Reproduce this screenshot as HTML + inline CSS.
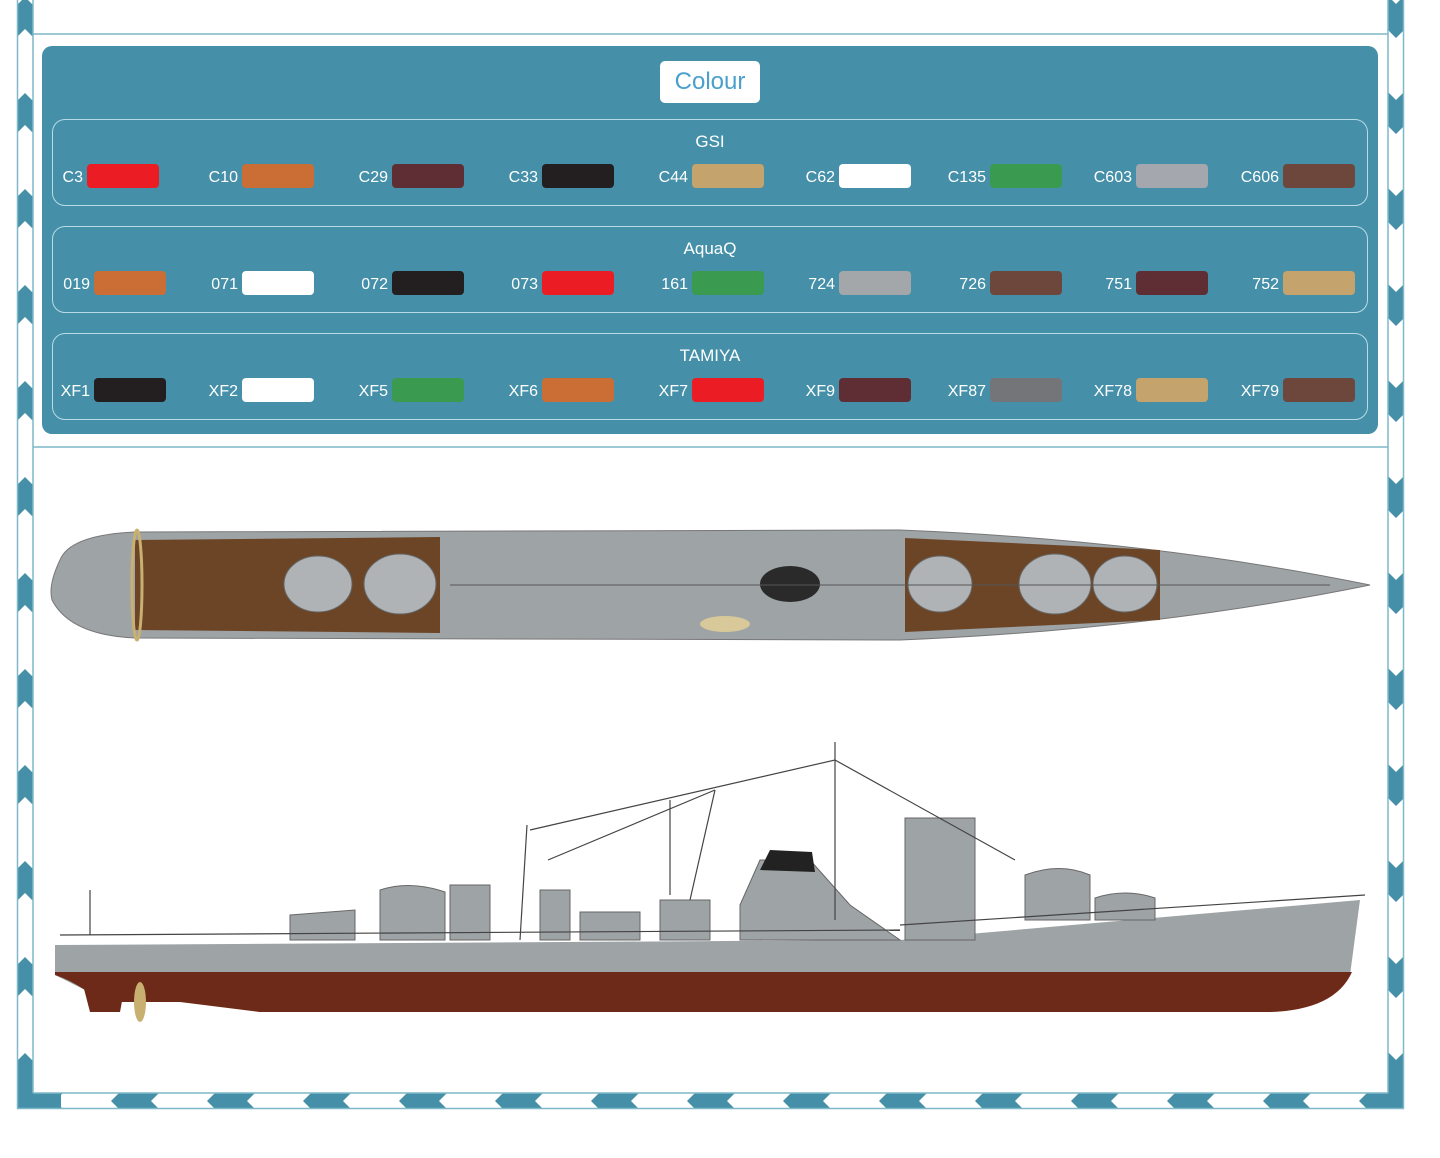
<!DOCTYPE html>
<html><head><meta charset="utf-8"><style>
body{margin:0;width:1440px;height:1158px;background:#fff;font-family:"Liberation Sans",sans-serif;position:relative;overflow:hidden}
.panel{position:absolute;left:42px;top:46px;width:1336px;height:388px;background:#4590a8;border-radius:10px}
.title{position:absolute;left:618px;top:15px;width:100px;height:42px;background:#fff;border-radius:5px;color:#4aa0cc;font-size:24px;text-align:center;line-height:42px}
.grp{position:absolute;left:10px;width:1316px;height:87px;border:1.5px solid #b8dbe6;border-radius:13px;box-sizing:border-box}
.gt{position:absolute;left:0;right:0;top:12px;text-align:center;color:#fff;font-size:17px}
.sw{position:absolute;top:44px;width:72px;height:24px;border-radius:4px}
.lb{position:absolute;top:49px;color:#fff;font-size:16px;text-align:right;width:60px}
</style></head><body>
<svg width="1440" height="1158" style="position:absolute;left:0;top:0">
<defs>
<pattern id="pl" x="17" y="0" width="16" height="96" patternUnits="userSpaceOnUse">
<polygon points="0,5 8,-3 16,5 16,37 8,29 0,37" fill="#4590a8"/><polygon points="0,101 8,93 16,101 16,133 8,125 0,133" fill="#4590a8"/></pattern>
<pattern id="pr" x="1388" y="0" width="16" height="96" patternUnits="userSpaceOnUse">
<polygon points="0,-4 8,4 16,-4 16,30 8,38 0,30" fill="#4590a8"/><polygon points="0,92 8,100 16,92 16,126 8,134 0,126" fill="#4590a8"/></pattern>
<pattern id="pb" x="0" y="1093" width="96" height="16" patternUnits="userSpaceOnUse">
<polygon points="23,0 63,0 55,8 63,16 23,16 15,8" fill="#4590a8"/></pattern>
</defs>
<rect x="17" y="0" width="16" height="1109" fill="url(#pl)"/>
<rect x="1388" y="0" width="16" height="1109" fill="url(#pr)"/>
<rect x="17" y="1093" width="1387" height="16" fill="url(#pb)"/>
<rect x="17" y="1070" width="16" height="39" fill="#4590a8"/>
<rect x="17" y="1093" width="44" height="16" fill="#4590a8"/>
<rect x="1388" y="1060" width="16" height="49" fill="#4590a8"/>
<g fill="none" stroke="#7fb8c9" stroke-width="1.5">
<line x1="17.5" y1="0" x2="17.5" y2="1109"/><line x1="33" y1="0" x2="33" y2="1093"/>
<line x1="1388" y1="0" x2="1388" y2="1093"/><line x1="1403.5" y1="0" x2="1403.5" y2="1109"/>
<line x1="17" y1="1108.5" x2="1404" y2="1108.5"/><line x1="33" y1="1093" x2="1388" y2="1093"/>
<line x1="33" y1="34" x2="1388" y2="34"/><line x1="33" y1="447" x2="1388" y2="447"/>
</g>
<!-- top view ship -->
<path d="M60,560 Q70,535 135,532 L900,530 Q1150,540 1370,585 Q1150,630 900,640 L135,638 Q70,635 52,600 Q48,585 60,560Z" fill="#9ea3a6" stroke="#777" stroke-width="1"/>
<path d="M135,540 L440,537 L440,633 L135,630Z" fill="#6b4526"/>
<path d="M905,538 L1160,550 L1160,620 L905,632Z" fill="#6b4526"/>
<ellipse cx="318" cy="584" rx="34" ry="28" fill="#b0b3b5" stroke="#666"/>
<ellipse cx="400" cy="584" rx="36" ry="30" fill="#b0b3b5" stroke="#666"/>
<ellipse cx="1055" cy="584" rx="36" ry="30" fill="#b0b3b5" stroke="#666"/>
<ellipse cx="1125" cy="584" rx="32" ry="28" fill="#b0b3b5" stroke="#666"/>
<ellipse cx="940" cy="584" rx="32" ry="28" fill="#b0b3b5" stroke="#666"/>
<ellipse cx="790" cy="584" rx="30" ry="18" fill="#2a2a2a"/>
<ellipse cx="725" cy="624" rx="25" ry="8" fill="#d8c89a"/>
<line x1="450" y1="585" x2="1330" y2="585" stroke="#555" stroke-width="1"/>
<ellipse cx="137" cy="585" rx="5" ry="55" fill="none" stroke="#c8b070" stroke-width="3"/>
<!-- side view ship -->
<path d="M55,945 L900,940 L1360,900 L1350,975 Q1330,1010 1270,1012 L260,1012 L180,1000 L100,1000 L85,990 L55,975Z" fill="#9ea3a6"/>
<path d="M55,972 L1352,972 Q1335,1010 1270,1012 L260,1012 L180,1002 L100,1002 L85,990 Q70,980 55,975Z" fill="#6e2a18"/>
<path d="M83,985 L125,985 L120,1012 L90,1012Z" fill="#6e2a18"/>
<ellipse cx="140" cy="1002" rx="6" ry="20" fill="#c8b070"/>
<g fill="#9ea3a6" stroke="#666" stroke-width="1">
<path d="M290,915 L355,910 L355,940 L290,940Z"/>
<path d="M380,890 Q410,880 445,892 L445,940 L380,940Z"/>
<rect x="450" y="885" width="40" height="55"/>
<rect x="540" y="890" width="30" height="50"/>
<rect x="580" y="912" width="60" height="28"/>
<rect x="660" y="900" width="50" height="40"/>
<path d="M740,905 L760,860 L810,860 L850,905 L900,940 L740,940Z"/>
<rect x="905" y="818" width="70" height="122"/>
<path d="M1025,875 Q1060,862 1090,875 L1090,920 L1025,920Z"/>
<path d="M1095,898 Q1125,888 1155,898 L1155,920 L1095,920Z"/>
</g>
<path d="M760,870 L770,850 L812,852 L815,872Z" fill="#222"/>
<g stroke="#444" stroke-width="1.2" fill="none">
<path d="M530,830 L835,760 L1015,860"/><path d="M548,860 L715,790"/><line x1="835" y1="742" x2="835" y2="920"/>
<line x1="527" y1="825" x2="520" y2="940"/><line x1="90" y1="890" x2="90" y2="935"/>
<line x1="670" y1="800" x2="670" y2="895"/><line x1="715" y1="790" x2="690" y2="900"/>
<line x1="60" y1="935" x2="900" y2="930"/><line x1="900" y1="925" x2="1365" y2="895"/>
</g>
</svg>
<div class="panel">
<div class="title">Colour</div>
<div class="grp" style="top:73px"><div class="gt">GSI</div>
<span class="lb" style="left:-30px">C3</span><div class="sw" style="left:34px;background:#ec1c24"></div>
<span class="lb" style="left:125px">C10</span><div class="sw" style="left:189px;background:#cb6e36"></div>
<span class="lb" style="left:275px">C29</span><div class="sw" style="left:339px;background:#5e2e34"></div>
<span class="lb" style="left:425px">C33</span><div class="sw" style="left:489px;background:#231f20"></div>
<span class="lb" style="left:575px">C44</span><div class="sw" style="left:639px;background:#c5a36c"></div>
<span class="lb" style="left:722px">C62</span><div class="sw" style="left:786px;background:#fff"></div>
<span class="lb" style="left:873px">C135</span><div class="sw" style="left:937px;background:#3a9a50"></div>
<span class="lb" style="left:1019px">C603</span><div class="sw" style="left:1083px;background:#a4a7ad"></div>
<span class="lb" style="left:1166px">C606</span><div class="sw" style="left:1230px;background:#6e473c"></div>
</div>
<div class="grp" style="top:180px"><div class="gt">AquaQ</div>
<span class="lb" style="left:-23px">019</span><div class="sw" style="left:41px;background:#cb6e36"></div>
<span class="lb" style="left:125px">071</span><div class="sw" style="left:189px;background:#fff"></div>
<span class="lb" style="left:275px">072</span><div class="sw" style="left:339px;background:#231f20"></div>
<span class="lb" style="left:425px">073</span><div class="sw" style="left:489px;background:#ec1c24"></div>
<span class="lb" style="left:575px">161</span><div class="sw" style="left:639px;background:#3a9a50"></div>
<span class="lb" style="left:722px">724</span><div class="sw" style="left:786px;background:#a4a7a9"></div>
<span class="lb" style="left:873px">726</span><div class="sw" style="left:937px;background:#6e473c"></div>
<span class="lb" style="left:1019px">751</span><div class="sw" style="left:1083px;background:#5e2e34"></div>
<span class="lb" style="left:1166px">752</span><div class="sw" style="left:1230px;background:#c5a36c"></div>
</div>
<div class="grp" style="top:287px"><div class="gt">TAMIYA</div>
<span class="lb" style="left:-23px">XF1</span><div class="sw" style="left:41px;background:#231f20"></div>
<span class="lb" style="left:125px">XF2</span><div class="sw" style="left:189px;background:#fff"></div>
<span class="lb" style="left:275px">XF5</span><div class="sw" style="left:339px;background:#3a9a50"></div>
<span class="lb" style="left:425px">XF6</span><div class="sw" style="left:489px;background:#cb6e36"></div>
<span class="lb" style="left:575px">XF7</span><div class="sw" style="left:639px;background:#ec1c24"></div>
<span class="lb" style="left:722px">XF9</span><div class="sw" style="left:786px;background:#5e2e34"></div>
<span class="lb" style="left:873px">XF87</span><div class="sw" style="left:937px;background:#747579"></div>
<span class="lb" style="left:1019px">XF78</span><div class="sw" style="left:1083px;background:#c5a36c"></div>
<span class="lb" style="left:1166px">XF79</span><div class="sw" style="left:1230px;background:#6e473c"></div>
</div>
</div>
</body></html>
